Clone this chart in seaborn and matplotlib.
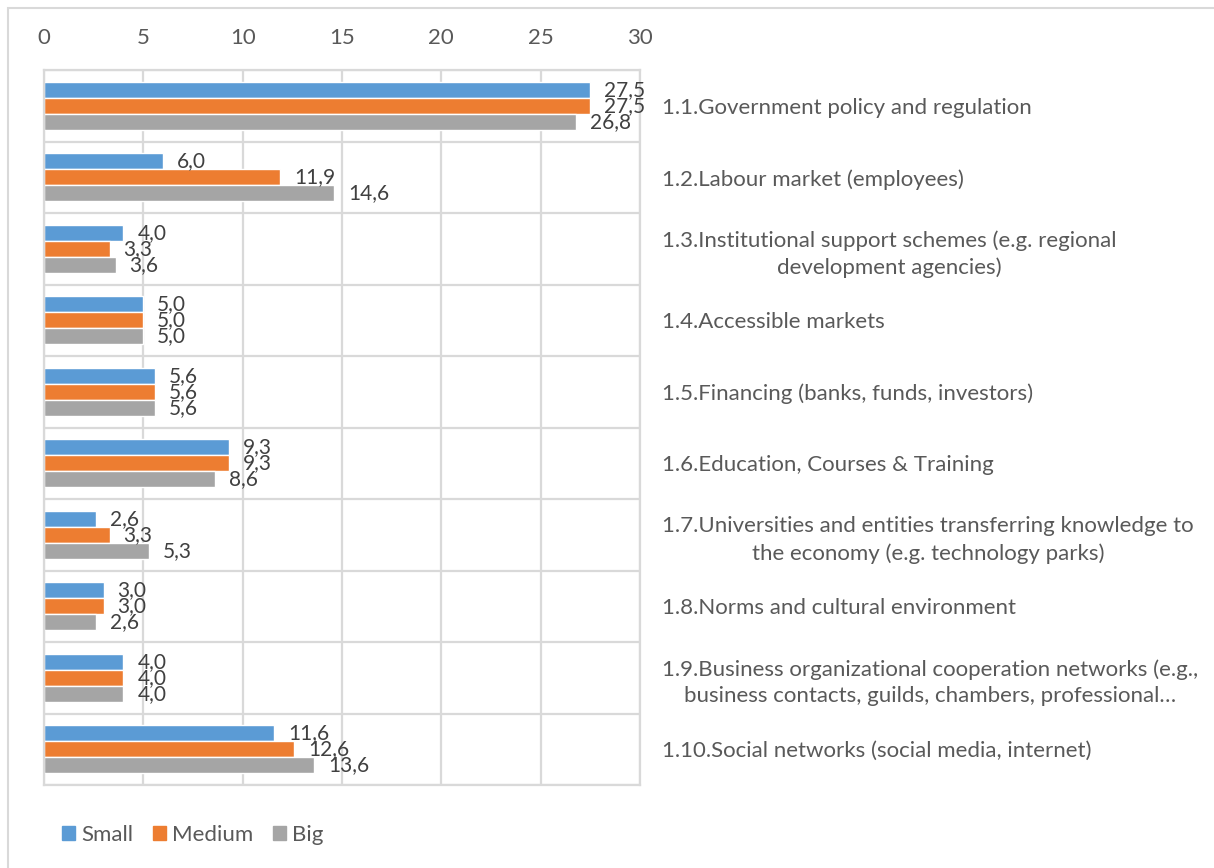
import matplotlib
matplotlib.use("Agg")
import matplotlib.pyplot as plt
from matplotlib.patches import Rectangle
from matplotlib.ticker import MultipleLocator, FixedLocator
import seaborn as sns
import pandas as pd

categories = [
    "1.1.Government policy and regulation",
    "1.2.Labour market (employees)",
    "1.3.Institutional support schemes (e.g. regional\ndevelopment agencies)",
    "1.4.Accessible markets",
    "1.5.Financing (banks, funds, investors)",
    "1.6.Education, Courses & Training",
    "1.7.Universities and entities transferring knowledge to\nthe economy (e.g. technology parks)",
    "1.8.Norms and cultural environment",
    "1.9.Business organizational cooperation networks (e.g.,\nbusiness contacts, guilds, chambers, professional\u2026",
    "1.10.Social networks (social media, internet)",
]
small = [27.5, 6.0, 4.0, 5.0, 5.6, 9.3, 2.6, 3.0, 4.0, 11.6]
medium = [27.5, 11.9, 3.3, 5.0, 5.6, 9.3, 3.3, 3.0, 4.0, 12.6]
big = [26.8, 14.6, 3.6, 5.0, 5.6, 8.6, 5.3, 2.6, 4.0, 13.6]
sizes = ["Small", "Medium", "Big"]
colors = ["#5B9BD5", "#ED7D31", "#A5A5A5"]

rows = []
for name, vals in zip(sizes, [small, medium, big]):
    for cat, v in zip(categories, vals):
        rows.append({"category": cat, "size": name, "value": v})
df = pd.DataFrame(rows)

sns.set_theme(style="white")
plt.rcParams["font.family"] = ["Lato", "DejaVu Sans"]
text_color = "#595959"
grid_color = "#D9D9D9"

W, H = 1214, 868
fig = plt.figure(figsize=(W / 100, H / 100), dpi=100)
ax = fig.add_axes([44 / W, 1 - 785 / H, (640 - 44) / W, (785 - 70) / H])

sns.barplot(data=df, y="category", x="value", hue="size", order=categories,
            hue_order=sizes, palette=colors, orient="h", width=0.67, gap=0,
            saturation=1, ax=ax)

ax.set_xlim(0, 30)
ax.set_ylim(9.5, -0.5)
ax.xaxis.set_major_locator(MultipleLocator(5))
ax.xaxis.tick_top()
ax.yaxis.tick_right()
ax.set_xlabel("")
ax.set_ylabel("")

# vertical grid at value ticks, horizontal separators between categories
ax.yaxis.set_minor_locator(FixedLocator([i + 0.5 for i in range(-1, 10)]))
ax.grid(axis="x", which="major", color=grid_color, lw=1.6)
ax.grid(axis="y", which="minor", color=grid_color, lw=1.6)
ax.grid(axis="y", which="major", visible=False)
ax.set_axisbelow(True)
for sp in ax.spines.values():
    sp.set_color(grid_color)
    sp.set_linewidth(1.6)

ax.tick_params(axis="x", length=0, pad=16, labelsize=16, colors=text_color)
ax.tick_params(axis="y", which="both", length=0, pad=16, labelsize=16,
               colors=text_color)
for lab in ax.get_yticklabels():
    lab.set_horizontalalignment("left")
    lab.set_multialignment("center")
    lab.set_linespacing(1.4)

for cont in ax.containers:
    ax.bar_label(cont, labels=[f"{v:.1f}".replace(".", ",") for v in cont.datavalues],
                 padding=10, fontsize=15, color="#404040")

ax.legend_.remove()
handles = [Rectangle((0, 0), 1, 1, color=c) for c in colors]
fig.legend(handles, sizes, loc="center left", bbox_to_anchor=(62 / W, 1 - 835 / H),
           ncol=3, frameon=False, fontsize=16, handlelength=0.6, handleheight=0.6,
           handletextpad=0.25, columnspacing=0.9, borderpad=0, borderaxespad=0,
           labelcolor=text_color)

# outer chart frame
fig.patches.append(Rectangle((8 / W, -0.05), 1.2, 1 - 8 / H + 0.05,
                             transform=fig.transFigure, fill=False,
                             edgecolor=grid_color, lw=1.5))

fig.savefig("out.png", dpi=100)
